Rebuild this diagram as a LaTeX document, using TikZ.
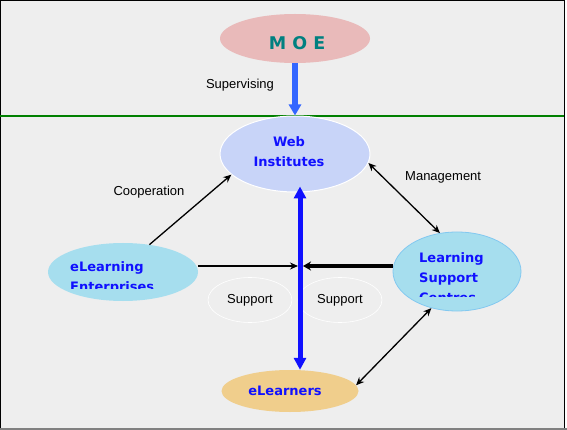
\documentclass[tikz,border=0pt]{standalone}
\usepackage{fontspec}
\setmainfont{Liberation Sans}
\newfontfamily\boldsans{DejaVu Sans}
\usetikzlibrary{arrows.meta,shapes.geometric}
\definecolor{paper}{RGB}{238,238,238}
\definecolor{moepink}{RGB}{233,186,186}
\definecolor{moeteal}{RGB}{0,128,128}
\definecolor{webblue}{RGB}{200,212,248}
\definecolor{aqua}{RGB}{166,222,238}
\definecolor{aquarim}{RGB}{130,200,240}
\definecolor{tan}{RGB}{240,206,140}
\definecolor{inkblue}{RGB}{16,16,255}
\definecolor{supblue}{RGB}{51,102,255}
\definecolor{rulegreen}{RGB}{0,128,0}

\begin{document}
\begin{tikzpicture}[x=1pt, y=-1pt,
  oval/.style={ellipse, inner sep=0pt},
  boxtext/.style={font=\boldsans\bfseries\fontsize{13}{20}\selectfont, text=inkblue, inner sep=0pt},
  lbl/.style={font=\fontsize{13}{15}\selectfont, inner sep=0pt},
  link/.style={line width=1.3pt, -{Stealth[length=8pt,width=7pt]}},
  twoway/.style={line width=1.3pt, {Stealth[length=8pt,width=7pt]}-{Stealth[length=8pt,width=7pt]}}]
  % page, frame and the green rule
  \useasboundingbox (0,0) rectangle (567,430);
  \fill[white] (0,0) rectangle (567,430);
  \fill[paper] (1,1) rectangle (564,428);
  \draw[black, line width=1pt] (0.5,428) -- (0.5,0.5) -- (564.5,0.5) -- (564.5,428);
  \fill[gray] (0,427.8) rectangle (567,430);
  \draw[rulegreen, line width=1.2pt] (0,116) -- (564,116);
  % ovals
  \node[oval, fill=moepink, minimum width=150, minimum height=49] (moe) at (295,38.5) {};
  \node[oval, fill=webblue, draw=white, line width=1pt, minimum width=150, minimum height=76] (web) at (295,154) {};
  \node[oval, fill=aqua, minimum width=150, minimum height=58] (ele) at (123,272) {};
  \node[oval, fill=aqua, draw=aquarim, line width=0.8pt, minimum width=128, minimum height=79] (lsc) at (457,271.5) {};
  \node[oval, fill=tan, minimum width=137, minimum height=42] (lrn) at (290,391) {};
  \node[oval, draw=white, line width=0.6pt, minimum width=84, minimum height=45, lbl] (supl) at (250,300) {Support};
  \node[oval, draw=white, line width=0.6pt, minimum width=84, minimum height=45, lbl] (supr) at (340,300) {Support};
  % oval texts (the lower lines are cut off as in the slide)
  \node[anchor=base, font=\boldsans\bfseries\fontsize{17.5}{20}\selectfont, text=moeteal, inner sep=0pt] (moetxt) at (297,50) {M O E};
  \node[boxtext, align=center, anchor=north] (webtxt) at (289,136.5) {Web\\Institutes};
  \begin{scope}
    \clip (48,240) rectangle (200,288);
    \node[boxtext, align=left, anchor=north west] (eletxt) at (70,261.5) {eLearning\\Enterprises};
  \end{scope}
  \begin{scope}
    \clip (393,230) rectangle (522,296);
    \node[boxtext, align=left, anchor=north west] (lsctxt) at (419,252.5) {Learning\\Support\\Centres};
  \end{scope}
  \node[boxtext, anchor=base] (lrntxt) at (285,395) {eLearners};
  % edge labels
  \node[lbl] (suplbl) at (240,85) {Supervising};
  \node[lbl] (cooplbl) at (149,192) {Cooperation};
  \node[lbl, anchor=west] (mgmtlbl) at (405,177) {Management};
  % connectors
  \coordinate (hub) at (300,266);
  \draw[supblue, line width=5.5pt, -{Triangle[length=11pt,width=12pt]}] (moe.south) -- (web.north);
  \draw[link] (ele.east |- hub) -- ([xshift=-2pt]hub);
  \draw[line width=3.4pt, -{Stealth[length=8pt,width=9pt]}] (lsc.west |- hub) -- ([xshift=3pt]hub);
  \draw[inkblue, line width=5pt, shorten <=-6pt, {Triangle[length=12pt,width=12pt]}-{Triangle[length=12pt,width=12pt]}] (hub |- web.south) -- (hub |- lrn.north);
  \draw[link] (ele.46) -- (web.198);
  \draw[twoway] (web.-7) -- (lsc.114);
  \draw[twoway] (lsc.235) -- (lrn.5);
\end{tikzpicture}
\end{document}
